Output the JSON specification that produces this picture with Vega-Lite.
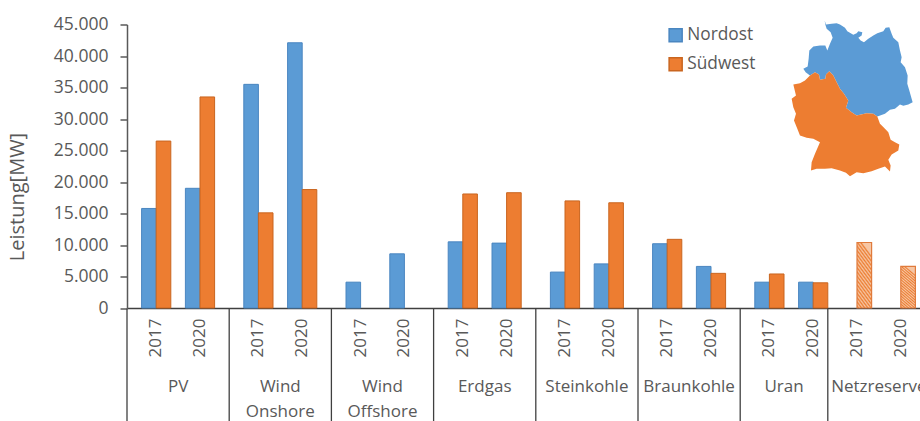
{
  "$schema": "https://vega.github.io/schema/vega-lite/v6.json",
  "background": "white",
  "padding": {"left": 7, "top": 15.5, "right": 0, "bottom": 0},
  "spacing": 0,
  "bounds": "flush",
  "config": {
    "view": {"stroke": null},
    "font": "Open Sans"
  },
  "datasets": {
    "leistung": [
      {"balken": "PV 2017 Nordost", "kategorie": "PV", "jahr": "2017", "region": "Nordost", "mw": 15800},
      {"balken": "PV 2017 Südwest", "kategorie": "PV", "jahr": "2017", "region": "Südwest", "mw": 26500},
      {"balken": "PV 2020 Nordost", "kategorie": "PV", "jahr": "2020", "region": "Nordost", "mw": 19000},
      {"balken": "PV 2020 Südwest", "kategorie": "PV", "jahr": "2020", "region": "Südwest", "mw": 33500},
      {"balken": "Onshore 2017 Nordost", "kategorie": "Wind Onshore", "jahr": "2017", "region": "Nordost", "mw": 35500},
      {"balken": "Onshore 2017 Südwest", "kategorie": "Wind Onshore", "jahr": "2017", "region": "Südwest", "mw": 15100},
      {"balken": "Onshore 2020 Nordost", "kategorie": "Wind Onshore", "jahr": "2020", "region": "Nordost", "mw": 42100},
      {"balken": "Onshore 2020 Südwest", "kategorie": "Wind Onshore", "jahr": "2020", "region": "Südwest", "mw": 18800},
      {"balken": "Offshore 2017 Nordost", "kategorie": "Wind Offshore", "jahr": "2017", "region": "Nordost", "mw": 4100},
      {"balken": "Offshore 2020 Nordost", "kategorie": "Wind Offshore", "jahr": "2020", "region": "Nordost", "mw": 8600},
      {"balken": "Erdgas 2017 Nordost", "kategorie": "Erdgas", "jahr": "2017", "region": "Nordost", "mw": 10500},
      {"balken": "Erdgas 2017 Südwest", "kategorie": "Erdgas", "jahr": "2017", "region": "Südwest", "mw": 18100},
      {"balken": "Erdgas 2020 Nordost", "kategorie": "Erdgas", "jahr": "2020", "region": "Nordost", "mw": 10300},
      {"balken": "Erdgas 2020 Südwest", "kategorie": "Erdgas", "jahr": "2020", "region": "Südwest", "mw": 18300},
      {"balken": "Steinkohle 2017 Nordost", "kategorie": "Steinkohle", "jahr": "2017", "region": "Nordost", "mw": 5700},
      {"balken": "Steinkohle 2017 Südwest", "kategorie": "Steinkohle", "jahr": "2017", "region": "Südwest", "mw": 17000},
      {"balken": "Steinkohle 2020 Nordost", "kategorie": "Steinkohle", "jahr": "2020", "region": "Nordost", "mw": 7000},
      {"balken": "Steinkohle 2020 Südwest", "kategorie": "Steinkohle", "jahr": "2020", "region": "Südwest", "mw": 16700},
      {"balken": "Braunkohle 2017 Nordost", "kategorie": "Braunkohle", "jahr": "2017", "region": "Nordost", "mw": 10200},
      {"balken": "Braunkohle 2017 Südwest", "kategorie": "Braunkohle", "jahr": "2017", "region": "Südwest", "mw": 10900},
      {"balken": "Braunkohle 2020 Nordost", "kategorie": "Braunkohle", "jahr": "2020", "region": "Nordost", "mw": 6600},
      {"balken": "Braunkohle 2020 Südwest", "kategorie": "Braunkohle", "jahr": "2020", "region": "Südwest", "mw": 5500},
      {"balken": "Uran 2017 Nordost", "kategorie": "Uran", "jahr": "2017", "region": "Nordost", "mw": 4100},
      {"balken": "Uran 2017 Südwest", "kategorie": "Uran", "jahr": "2017", "region": "Südwest", "mw": 5400},
      {"balken": "Uran 2020 Nordost", "kategorie": "Uran", "jahr": "2020", "region": "Nordost", "mw": 4100},
      {"balken": "Uran 2020 Südwest", "kategorie": "Uran", "jahr": "2020", "region": "Südwest", "mw": 4000}
    ],
    "netzreserve": [
      {"balken": "Netzreserve 2017 Südwest", "kategorie": "Netzreserve", "jahr": "2017", "region": "Südwest", "mw": 10400},
      {"balken": "Netzreserve 2020 Südwest", "kategorie": "Netzreserve", "jahr": "2020", "region": "Südwest", "mw": 6600}
    ],
    "jahre": [
      {"balken": "PV 2017 Südwest", "jahr": "2017"}, {"balken": "PV 2020 Südwest", "jahr": "2020"},
      {"balken": "Onshore 2017 Südwest", "jahr": "2017"}, {"balken": "Onshore 2020 Südwest", "jahr": "2020"},
      {"balken": "Offshore 2017 Südwest", "jahr": "2017"}, {"balken": "Offshore 2020 Südwest", "jahr": "2020"},
      {"balken": "Erdgas 2017 Südwest", "jahr": "2017"}, {"balken": "Erdgas 2020 Südwest", "jahr": "2020"},
      {"balken": "Steinkohle 2017 Südwest", "jahr": "2017"}, {"balken": "Steinkohle 2020 Südwest", "jahr": "2020"},
      {"balken": "Braunkohle 2017 Südwest", "jahr": "2017"}, {"balken": "Braunkohle 2020 Südwest", "jahr": "2020"},
      {"balken": "Uran 2017 Südwest", "jahr": "2017"}, {"balken": "Uran 2020 Südwest", "jahr": "2020"},
      {"balken": "Netzreserve 2017 Südwest", "jahr": "2017"}, {"balken": "Netzreserve 2020 Südwest", "jahr": "2020"}
    ],
    "kategorien": [
      {"mitte": "PV Mitte", "start": "PV Rand", "name": "PV"},
      {"mitte": "Onshore Mitte", "start": "Onshore Rand", "name": "Wind\nOnshore"},
      {"mitte": "Offshore Mitte", "start": "Offshore Rand", "name": "Wind\nOffshore"},
      {"mitte": "Erdgas Mitte", "start": "Erdgas Rand", "name": "Erdgas"},
      {"mitte": "Steinkohle Mitte", "start": "Steinkohle Rand", "name": "Steinkohle"},
      {"mitte": "Braunkohle Mitte", "start": "Braunkohle Rand", "name": "Braunkohle"},
      {"mitte": "Netzreserve Mitte", "start": "Netzreserve Rand", "name": "Netzreserve"}
    ],
    "uran": [
      {"mitte": "Uran Mitte", "start": "Uran Rand", "name": "Uran"}
    ]
  },
  "vconcat": [
    {
      "width": 803,
      "height": 283.5,
      "layer": [
        {
          "data": {"name": "leistung"},
          "mark": {"type": "bar", "strokeWidth": 1},
          "encoding": {
            "x": {"field": "balken", "type": "nominal", "scale": {"type": "band", "paddingInner": 0, "paddingOuter": 0, "domain": ["PV Rand","PV 2017 Nordost","PV 2017 Südwest","PV Mitte","PV 2020 Nordost","PV 2020 Südwest","PV Ende","Onshore Rand","Onshore 2017 Nordost","Onshore 2017 Südwest","Onshore Mitte","Onshore 2020 Nordost","Onshore 2020 Südwest","Onshore Ende","Offshore Rand","Offshore 2017 Nordost","Offshore 2017 Südwest","Offshore Mitte","Offshore 2020 Nordost","Offshore 2020 Südwest","Offshore Ende","Erdgas Rand","Erdgas 2017 Nordost","Erdgas 2017 Südwest","Erdgas Mitte","Erdgas 2020 Nordost","Erdgas 2020 Südwest","Erdgas Ende","Steinkohle Rand","Steinkohle 2017 Nordost","Steinkohle 2017 Südwest","Steinkohle Mitte","Steinkohle 2020 Nordost","Steinkohle 2020 Südwest","Steinkohle Ende","Braunkohle Rand","Braunkohle 2017 Nordost","Braunkohle 2017 Südwest","Braunkohle Mitte","Braunkohle 2020 Nordost","Braunkohle 2020 Südwest","Braunkohle Ende","Uran Rand","Uran 2017 Nordost","Uran 2017 Südwest","Uran Mitte","Uran 2020 Nordost","Uran 2020 Südwest","Netzreserve Rand","Netzreserve 2017 Nordost","Netzreserve 2017 Südwest","Netzreserve Mitte","Netzreserve 2020 Nordost","Netzreserve 2020 Südwest","Netzreserve Ende"]},
              "axis": {"title": null, "labels": false, "ticks": false, "domain": true, "domainColor": "#404040", "domainWidth": 1.5, "grid": false}},
            "y": {"field": "mw", "type": "quantitative", "scale": {"domain": [0, 45000], "nice": false},
              "axis": {"title": "Leistung[MW]", "titleColor": "#595959", "titleFontSize": 20, "titleFontWeight": "normal", "titleFont": "Open Sans", "titlePadding": 26, "titleY": 172, "values": [0,5000,10000,15000,20000,25000,30000,35000,40000,45000], "labelOverlap": false, "labelExpr": "replace(format(datum.value, ','), ',', '.')", "labelColor": "#595959", "labelFontSize": 17.5, "labelFont": "Open Sans", "labelPadding": 12, "ticks": true, "tickSize": 7, "tickColor": "#404040", "tickWidth": 1.3, "domainColor": "#595959", "domainWidth": 1.5, "grid": false}},
            "fill": {"field": "region", "type": "nominal", "scale": {"domain": ["Nordost","Südwest"], "range": ["#5b9bd5","#ed7d31"]},
              "legend": {"title": null, "orient": "none", "legendX": 540, "legendY": 2, "symbolType": "square", "symbolSize": 170, "labelFontSize": 17.3, "labelColor": "#595959", "labelFont": "Open Sans", "rowPadding": 9, "labelOffset": 3}},
            "stroke": {"field": "region", "type": "nominal", "scale": {"domain": ["Nordost","Südwest"], "range": ["#4a86c0","#c9651f"]}}
          }
        },
        {
          "data": {"name": "netzreserve"},
          "mark": {"type": "bar", "strokeWidth": 1.2, "stroke": "#e07b3c",
            "fill": {"gradient": "linear", "x1": 0, "y1": 1.2, "x2": 0.36, "y2": 0, "stops": [
              {"offset": 0.00, "color": "#f6c6a4"},{"offset": 0.025, "color": "#ec7d31"},{"offset": 0.05, "color": "#f6c6a4"},{"offset": 0.075, "color": "#ec7d31"},{"offset": 0.10, "color": "#f6c6a4"},{"offset": 0.125, "color": "#ec7d31"},{"offset": 0.15, "color": "#f6c6a4"},{"offset": 0.175, "color": "#ec7d31"},{"offset": 0.20, "color": "#f6c6a4"},{"offset": 0.225, "color": "#ec7d31"},{"offset": 0.25, "color": "#f6c6a4"},{"offset": 0.275, "color": "#ec7d31"},{"offset": 0.30, "color": "#f6c6a4"},{"offset": 0.325, "color": "#ec7d31"},{"offset": 0.35, "color": "#f6c6a4"},{"offset": 0.375, "color": "#ec7d31"},{"offset": 0.40, "color": "#f6c6a4"},{"offset": 0.425, "color": "#ec7d31"},{"offset": 0.45, "color": "#f6c6a4"},{"offset": 0.475, "color": "#ec7d31"},{"offset": 0.50, "color": "#f6c6a4"},{"offset": 0.525, "color": "#ec7d31"},{"offset": 0.55, "color": "#f6c6a4"},{"offset": 0.575, "color": "#ec7d31"},{"offset": 0.60, "color": "#f6c6a4"},{"offset": 0.625, "color": "#ec7d31"},{"offset": 0.65, "color": "#f6c6a4"},{"offset": 0.675, "color": "#ec7d31"},{"offset": 0.70, "color": "#f6c6a4"},{"offset": 0.725, "color": "#ec7d31"},{"offset": 0.75, "color": "#f6c6a4"},{"offset": 0.775, "color": "#ec7d31"},{"offset": 0.80, "color": "#f6c6a4"},{"offset": 0.825, "color": "#ec7d31"},{"offset": 0.85, "color": "#f6c6a4"},{"offset": 0.875, "color": "#ec7d31"},{"offset": 0.90, "color": "#f6c6a4"},{"offset": 0.925, "color": "#ec7d31"},{"offset": 0.95, "color": "#f6c6a4"},{"offset": 0.975, "color": "#ec7d31"},{"offset": 1.00, "color": "#f6c6a4"}
            ]}
          },
          "encoding": {
            "x": {"field": "balken", "type": "nominal", "axis": {"title": null, "labels": false, "ticks": false, "domain": true, "domainColor": "#404040", "domainWidth": 1.5, "grid": false}},
            "y": {"field": "mw", "type": "quantitative", "axis": {"title": "Leistung[MW]", "titleColor": "#595959", "titleFontSize": 20, "titleFontWeight": "normal", "titleFont": "Open Sans", "titlePadding": 26, "titleY": 172, "values": [0,5000,10000,15000,20000,25000,30000,35000,40000,45000], "labelOverlap": false, "labelExpr": "replace(format(datum.value, ','), ',', '.')", "labelColor": "#595959", "labelFontSize": 17.5, "labelFont": "Open Sans", "labelPadding": 12, "ticks": true, "tickSize": 7, "tickColor": "#404040", "tickWidth": 1.3, "domainColor": "#595959", "domainWidth": 1.5, "grid": false}}
          }
        },
        {
          "data": {
            "values": {
              "type": "FeatureCollection",
              "features": [
                {"type": "Feature", "properties": {"region": "Nordost"}, "geometry": {"type": "Polygon", "coordinates": [[[554,510],[558,498],[575,500],[590,502],[600,498],[615,488],[622,478],[640,467],[650,472],[655,478],[667,475],[665,465],[655,458],[662,450],[672,445],[685,455],[700,465],[712,472],[730,478],[737,488],[748,490],[755,470],[760,458],[775,445],[780,420],[785,400],[782,385],[795,370],[803,345],[802,320],[808,300],[815,275],[818,265],[805,258],[790,254],[780,258],[765,245],[750,242],[735,230],[712,222],[700,230],[680,232],[650,225],[635,235],[618,248],[625,270],[612,290],[600,305],[590,325],[580,345],[568,358],[558,348],[556,335],[540,332],[537,348],[525,355],[510,345],[497,355],[490,365],[503,372],[506,395],[508,420],[520,432],[540,435],[556,435],[562,420],[570,440],[578,458],[572,475],[560,485],[556,498],[554,510]]]}},
                {"type": "Feature", "properties": {"region": "Südwest"}, "geometry": {"type": "Polygon", "coordinates": [[[525,355],[537,348],[540,332],[556,335],[558,348],[568,358],[580,345],[590,325],[600,305],[612,290],[625,270],[618,248],[635,235],[650,225],[680,232],[700,230],[712,222],[720,200],[735,185],[745,175],[752,152],[765,145],[778,138],[775,120],[755,108],[745,92],[752,75],[750,57],[735,72],[715,65],[695,58],[670,52],[650,55],[630,43],[618,53],[600,60],[575,67],[555,65],[530,65],[513,60],[515,85],[525,110],[540,145],[520,155],[500,158],[480,165],[472,185],[462,210],[468,230],[460,250],[455,275],[468,285],[460,318],[480,322],[495,330],[510,345],[525,355]]]}}
              ]
            },
            "format": {"type": "json", "property": "features"}
          },
          "projection": {"type": "identity", "reflectY": true, "scale": 0.3333, "translate": [513, 166]},
          "mark": {"type": "geoshape", "clip": false},
          "encoding": {
            "fill": {"field": "properties.region", "type": "nominal", "legend": null}
          }
        }
      ]
    },
    {
      "width": 803,
      "height": 114,
      "layer": [
        {
          "data": {"name": "kategorien"},
          "mark": {"type": "rule", "color": "#404040", "strokeWidth": 1.3},
          "encoding": {
            "x": {"field": "start", "type": "nominal", "bandPosition": 0, "axis": null, "scale": {"type": "band", "paddingInner": 0, "paddingOuter": 0, "domain": ["PV Rand","PV 2017 Nordost","PV 2017 Südwest","PV Mitte","PV 2020 Nordost","PV 2020 Südwest","PV Ende","Onshore Rand","Onshore 2017 Nordost","Onshore 2017 Südwest","Onshore Mitte","Onshore 2020 Nordost","Onshore 2020 Südwest","Onshore Ende","Offshore Rand","Offshore 2017 Nordost","Offshore 2017 Südwest","Offshore Mitte","Offshore 2020 Nordost","Offshore 2020 Südwest","Offshore Ende","Erdgas Rand","Erdgas 2017 Nordost","Erdgas 2017 Südwest","Erdgas Mitte","Erdgas 2020 Nordost","Erdgas 2020 Südwest","Erdgas Ende","Steinkohle Rand","Steinkohle 2017 Nordost","Steinkohle 2017 Südwest","Steinkohle Mitte","Steinkohle 2020 Nordost","Steinkohle 2020 Südwest","Steinkohle Ende","Braunkohle Rand","Braunkohle 2017 Nordost","Braunkohle 2017 Südwest","Braunkohle Mitte","Braunkohle 2020 Nordost","Braunkohle 2020 Südwest","Braunkohle Ende","Uran Rand","Uran 2017 Nordost","Uran 2017 Südwest","Uran Mitte","Uran 2020 Nordost","Uran 2020 Südwest","Netzreserve Rand","Netzreserve 2017 Nordost","Netzreserve 2017 Südwest","Netzreserve Mitte","Netzreserve 2020 Nordost","Netzreserve 2020 Südwest","Netzreserve Ende"]}}
          }
        },
        {
          "data": {"name": "uran"},
          "mark": {"type": "rule", "color": "#404040", "strokeWidth": 1.3},
          "encoding": {
            "x": {"field": "start", "type": "nominal", "bandPosition": 0}
          }
        },
        {
          "data": {"name": "jahre"},
          "transform": [{"calculate": "'Jahr'", "as": "ebene"}],
          "mark": {"type": "text", "angle": 270, "align": "center", "baseline": "middle", "fontSize": 17, "color": "#595959"},
          "encoding": {
            "x": {"field": "balken", "type": "nominal", "bandPosition": 0},
            "y": {"field": "ebene", "type": "ordinal", "axis": null, "scale": {"type": "point", "padding": 0, "domain": ["Jahr","Kategorie"], "range": [29.5, 70]}},
            "text": {"field": "jahr"}
          }
        },
        {
          "data": {"name": "kategorien"},
          "transform": [{"calculate": "'Kategorie'", "as": "ebene"}],
          "mark": {"type": "text", "align": "center", "baseline": "top", "fontSize": 17, "color": "#595959", "lineBreak": "\n", "lineHeight": 25},
          "encoding": {
            "x": {"field": "mitte", "type": "nominal"},
            "y": {"field": "ebene", "type": "ordinal"},
            "text": {"field": "name"}
          }
        },
        {
          "data": {"name": "uran"},
          "transform": [{"calculate": "'Kategorie'", "as": "ebene"}],
          "mark": {"type": "text", "align": "center", "baseline": "top", "fontSize": 17, "color": "#595959"},
          "encoding": {
            "x": {"field": "mitte", "type": "nominal", "bandPosition": 0},
            "y": {"field": "ebene", "type": "ordinal"},
            "text": {"field": "name"}
          }
        }
      ]
    }
  ]
}
